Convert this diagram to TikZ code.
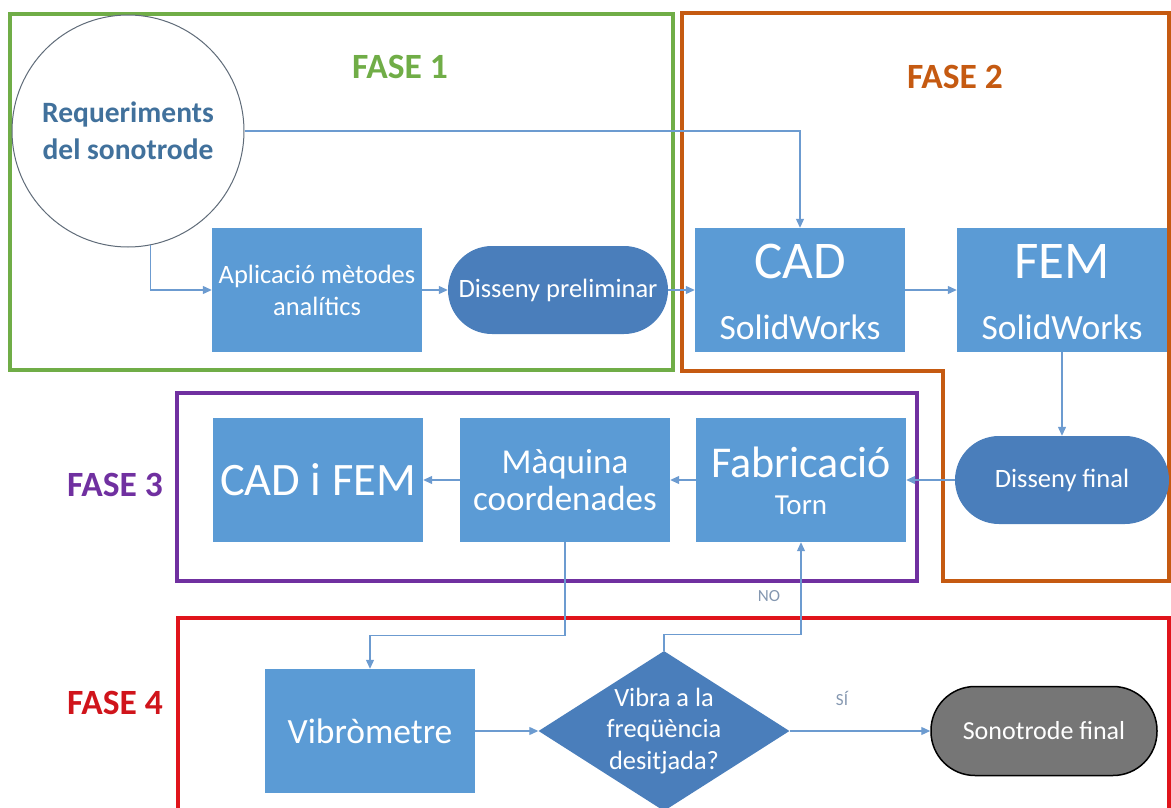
\documentclass[tikz,border=0pt]{standalone}
\usepackage{fontspec}
\setmainfont{Carlito}
\usetikzlibrary{arrows.meta, shapes.geometric}
\definecolor{boxblue}{HTML}{5B9BD5}
\definecolor{pillblue}{HTML}{4A7EBB}
\definecolor{linkblue}{HTML}{6C9BD0}
\definecolor{tagblue}{HTML}{8497B0}
\definecolor{ringgray}{HTML}{5F6B78}
\definecolor{reqtext}{HTML}{41719C}
\definecolor{fingray}{HTML}{767676}
\definecolor{fase1}{HTML}{70AD47}
\definecolor{fase2}{HTML}{C55A11}
\definecolor{fase3}{HTML}{7030A0}
\definecolor{fase4}{HTML}{E0141B}
\definecolor{fase4txt}{HTML}{D0141B}
\newcommand{\pxfont}[2]{\fontsize{#1}{#2}\selectfont}

\begin{document}
\begin{tikzpicture}[
  x = 1pt, y = -1pt,
  every node/.style = {inner sep = 0pt, align = center},
  blk/.style = {fill = boxblue, text = white, minimum width = 210pt, minimum height = 124pt},
  pill/.style = {fill = pillblue, text = white, minimum width = 220pt, minimum height = 88pt,
    rounded corners = 44pt, font = \pxfont{26.5}{30}},
  lbl/.style = {text = white},
  phase/.style = {font = \pxfont{35.5}{40}\bfseries},
  frame/.style = {line width = 3.5pt},
  conn/.style = {draw = linkblue, line width = 1.2pt, -{Triangle[length = 9pt, width = 8pt]}},
  tag/.style = {text = tagblue, font = \pxfont{17}{20}}
]
\useasboundingbox (0,0) rectangle (1171,808);
\clip (0,0) rectangle (1171,808);

% Phase frames
\draw[frame, fase1] (10,14) rectangle (673,370);
\draw[frame, fase2] (682,13) -- (1169,13) -- (1169,581) -- (943,581)
  -- (943,371) -- (682,371) -- cycle;
\draw[frame, fase3] (177,393) rectangle (917,581);
\draw[frame, fase4] (178,618) rectangle (1169,840);

\node[phase, text = fase1] (f1) at (400,67) {FASE 1};
\node[phase, text = fase2] (f2) at (955,77) {FASE 2};
\node[phase, text = fase3] (f3) at (115,485) {FASE 3};
\node[phase, text = fase4txt] (f4) at (115,703) {FASE 4};

% Fase 1
\node[circle, draw = ringgray, line width = 1pt, fill = white, minimum size = 232pt,
  text = reqtext, font = \pxfont{29.5}{37}\bfseries] (req) at (128,131) {Requeriments\\del sonotrode};
\node[blk, font = \pxfont{26.5}{32}] (apl) at (317,290) {Aplicació mètodes\\analítics};
\node[pill] (prel) at (558,290) {Disseny preliminar};

% Fase 2
\node[blk] (cad) at (800,290) {};
\node[lbl, font = \pxfont{53}{53}] (cadt) at (800,261) {CAD};
\node[lbl, font = \pxfont{35.5}{36}] (cads) at (800,327) {SolidWorks};
\node[blk] (fem) at (1062,290) {};
\node[lbl, font = \pxfont{53}{53}] (femt) at (1062,261) {FEM};
\node[lbl, font = \pxfont{35.5}{36}] (fems) at (1062,327) {SolidWorks};
\node[pill, minimum width = 214pt] (dfin) at (1062,480) {Disseny final};

% Fase 3
\node[blk] (fab) at (801,480) {};
\node[lbl, font = \pxfont{44}{44}] (fabt) at (801,462) {Fabricació};
\node[lbl, font = \pxfont{29}{29}] (fabs) at (801,505) {Torn};
\node[blk, font = \pxfont{35}{37}] (maq) at (565,480) {Màquina\\coordenades};
\node[blk, font = \pxfont{46.5}{46}] (cadfem) at (318,480) {CAD i FEM};

% Fase 4
\node[blk, font = \pxfont{35.5}{36}] (vib) at (370,731) {Vibròmetre};
\node[diamond, fill = pillblue, minimum width = 251pt, minimum height = 160pt] (dec) at (664,731) {};
\node[lbl, font = \pxfont{26.4}{31.5}] (dect) at (664,731) {Vibra a la\\freqüència\\desitjada?};
\node[pill, fill = fingray, draw = black, line width = 1.5pt, minimum width = 226pt,
  minimum height = 89pt, font = \pxfont{26}{30}] (fin) at (1044,731) {Sonotrode final};

% Connectors
\draw[conn] (req.-79) |- (apl);
\draw[conn] (req) -| (cad);
\draw[conn] (apl) -- (prel);
\draw[conn] (prel) -- (cad);
\draw[conn] (cad) -- (fem);
\draw[conn] (fem) -- (dfin);
\draw[conn] (dfin) -- (fab);
\draw[conn] (fab) -- (maq);
\draw[conn] (maq) -- (cadfem);
\draw[conn] (maq.south) -- ++(0,93) -| (vib);
\draw[conn] (vib) -- (dec);
\draw[conn] (dec.north) -- ++(0,-16) -| (fab);
\draw[conn] (dec) -- (fin);

\node[tag] (no) at (769,596) {NO};
\node[tag] (si) at (842,698) {SÍ};
\end{tikzpicture}
\end{document}
